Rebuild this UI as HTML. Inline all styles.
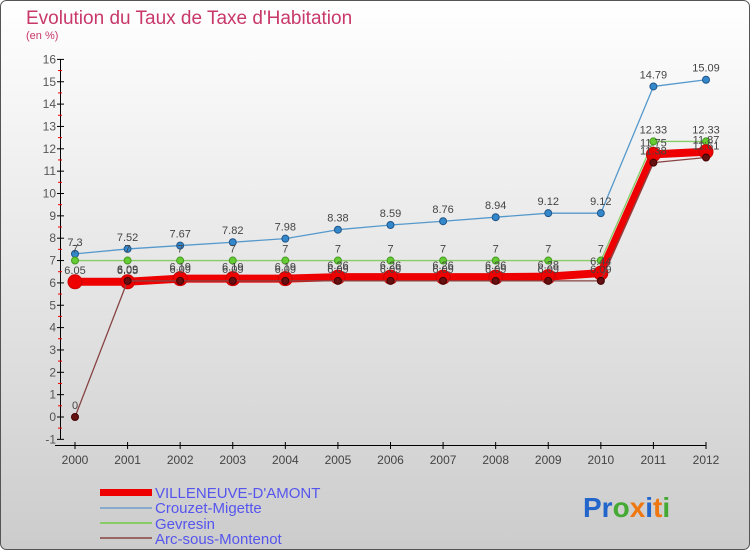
<!DOCTYPE html>
<html><head><meta charset="utf-8"><style>
body{margin:0;width:750px;height:550px;overflow:hidden;font-family:"Liberation Sans",sans-serif}
svg{display:block}
</style></head><body>
<svg width="750" height="550" viewBox="0 0 750 550">
<defs><linearGradient id="bg" x1="0" y1="0" x2="0" y2="1"><stop offset="0" stop-color="#ffffff"/><stop offset="1" stop-color="#cccccc"/></linearGradient></defs>
<rect x="0.5" y="0.5" width="749" height="549" rx="6" fill="url(#bg)" stroke="#555"/>
<text x="26" y="24" font-size="19" fill="#c8386a">Evolution du Taux de Taxe d'Habitation</text>
<text x="26" y="39" font-size="11" fill="#c8386a">(en %)</text>
<g id="axes"></g>
<g id="series"></g>
<g id="labels" font-size="11" fill="#444" text-anchor="middle"></g>
<g font-size="15" fill="#5555ee">
<rect x="100" y="489" width="52" height="7" fill="#ee0000"/>
<text x="155" y="498">VILLENEUVE-D'AMONT</text>
<line x1="100" y1="508" x2="152" y2="508" stroke="#88aacc" stroke-width="2"/>
<text x="155" y="513">Crouzet-Migette</text>
<line x1="100" y1="523" x2="152" y2="523" stroke="#88cc66" stroke-width="2"/>
<text x="155" y="529">Gevresin</text>
<line x1="100" y1="538" x2="152" y2="538" stroke="#996666" stroke-width="2"/>
<text x="155" y="544">Arc-sous-Montenot</text>
</g>
<g font-size="28" font-weight="bold">
<text x="583" y="517"><tspan fill="#2266cc">Pr</tspan><tspan fill="#44aa33">o</tspan><tspan fill="#ee7711">x</tspan><tspan fill="#2266cc">i</tspan><tspan fill="#ee7711">t</tspan><tspan fill="#44aa33">i</tspan></text>
</g>
</svg>
<script>
const years=[2000,2001,2002,2003,2004,2005,2006,2007,2008,2009,2010,2011,2012];
const yTicks=[-1,0,1,2,3,4,5,6,7,8,9,10,11,12,13,14,15,16];
const villeneuve=[6.05,6.05,6.19,6.19,6.19,6.26,6.26,6.26,6.26,6.28,6.44,11.75,11.87];
const crouzet=[7.3,7.52,7.67,7.82,7.98,8.38,8.59,8.76,8.94,9.12,9.12,14.79,15.09];
const gevresin=[7,7,7,7,7,7,7,7,7,7,7,12.33,12.33];
const arc=[0,6.09,6.09,6.09,6.09,6.09,6.09,6.09,6.09,6.09,6.09,11.38,11.61];
const NS="http://www.w3.org/2000/svg";
const X=i=>75+i*(631/12);
const Y=v=>417-v*22.35;
function mk(tag,attrs,parent){const e=document.createElementNS(NS,tag);for(const k in attrs)e.setAttribute(k,attrs[k]);parent.appendChild(e);return e;}
const ax=document.getElementById('axes');
let e=mk('line',{x1:120/3+0.5+0,y1:Y(16),x2:40.5,y2:Y(-1),stroke:'#000'},ax);


e.setAttribute('x1',60.5);e.setAttribute('x2',60.5);
e=mk('line',{x1:55,y1:445.5,x2:706,y2:445.5,stroke:'#000'},ax);


yTicks.forEach(t=>{
  const y=Y(t);
  const l=mk('line',{x1:57,y1:y,x2:64,y2:y,stroke:'#000'},ax);
  
  
  if(t<16){const m=mk('line',{x1:58,y1:y-11.2,x2:62,y2:y-11.2,stroke:'#e00'},ax);
  
  }
  const tx=mk('text',{x:56,y:y+4,'font-size':12,fill:'#555','text-anchor':'end'},ax);
  tx.textContent=t;
  
  
});
years.forEach((yr,i)=>{
  const x=X(i);
  const l=mk('line',{x1:x,y1:442,x2:x,y2:449,stroke:'#000'},ax);
  
  
  const t=mk('text',{x:x,y:464,'font-size':12,fill:'#444','text-anchor':'middle'},ax);
  t.textContent=yr;
  
  
});
const sg=document.getElementById('series'),lg=document.getElementById('labels');
function series(data,name,color,w,r,dot,dotStroke){
  const pts=data.map((v,i)=>X(i)+','+Y(v)).join(' ');
  const p=mk('polyline',{points:pts,fill:'none',stroke:color,'stroke-width':w,'stroke-linejoin':'round'},sg);
  
  
  data.forEach((v,i)=>{
    const c=mk('circle',{cx:X(i),cy:Y(v),r:r,fill:dot,stroke:dotStroke,'stroke-width':1},sg);
    
    
    const t=mk('text',{x:X(i),y:Y(v)-8},lg);
    t.textContent=v;
    
    
  });
}
series(crouzet,'crouzet','#5599cc',1.3,3.5,'#3388cc','#225588');
series(gevresin,'gevresin','#88cc66',1.3,3.5,'#66cc33','#449922');
series(villeneuve,'villeneuve','#ee0000',8,7,'#ee0000','#cc0000');
series(arc,'arc','#884444',1.3,3.5,'#661111','#440000');
</script>
</body></html>
